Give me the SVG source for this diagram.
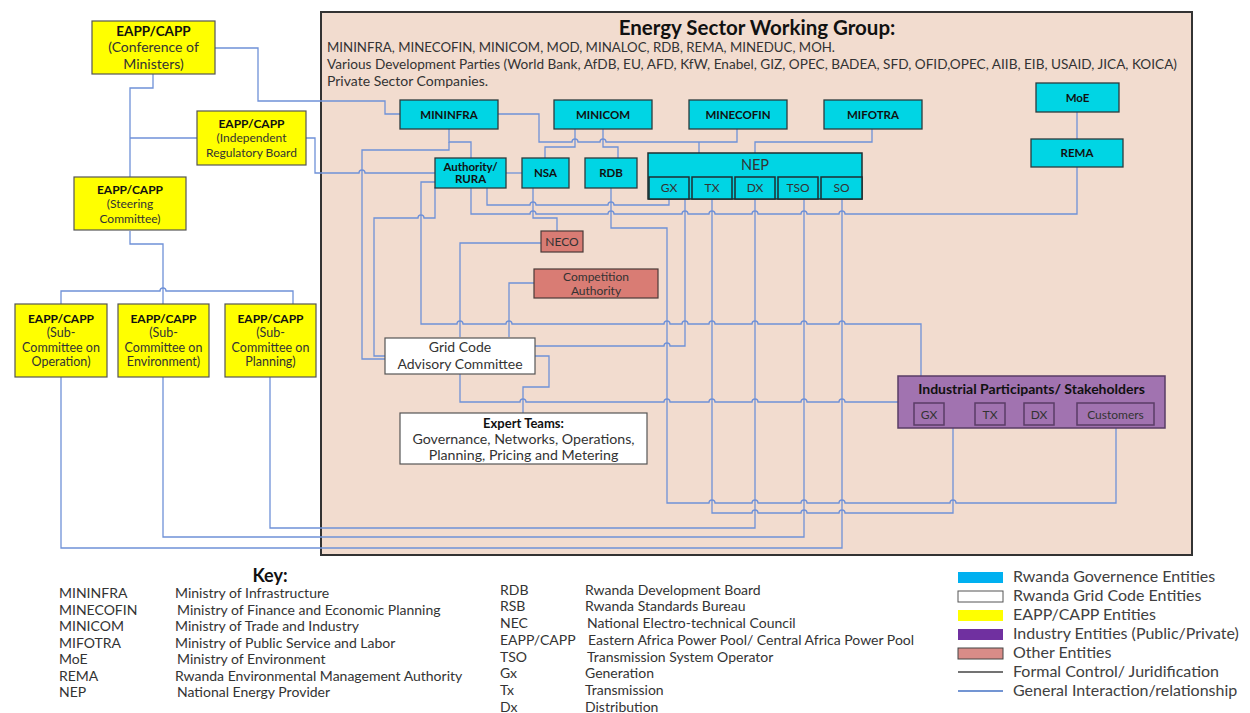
<svg xmlns="http://www.w3.org/2000/svg" width="1250" height="713" viewBox="0 0 1250 713">
<style>
text{font-family:Lato,"Open Sans","Liberation Sans",sans-serif;fill:#333}
.b{font-weight:bold;fill:#111}
.m{text-anchor:middle}
.c{fill:none;stroke:#6f91d8;stroke-width:1.3}
.cy{fill:#00d5e4;stroke:#2b3b3d;stroke-width:1.3}
.cs{fill:#00d5e4;stroke:#1e2e30;stroke-width:1.5}
.ye{fill:#ffff00;stroke:#555;stroke-width:1.2}
.rd{fill:#d97c74;stroke:#4a3a38;stroke-width:1.2}
.wh{fill:#fff;stroke:#555;stroke-width:1.2}
.pu{fill:#a173b0;stroke:#5a3d66;stroke-width:1.5}
.k{font-size:14px;fill:#333}
.lg{font-size:16px;fill:#404040}
</style>
<rect width="1250" height="713" fill="#fff"/>
<g id="esw-group">
<rect x="321" y="12" width="871" height="543" fill="#f2dccf" stroke="#333" stroke-width="2"/>
<text x="757" y="35" class="b m" font-size="20.5">Energy Sector Working Group:</text>
<text x="327" y="52" font-size="13" textLength="508" lengthAdjust="spacingAndGlyphs">MININFRA, MINECOFIN, MINICOM, MOD, MINALOC, RDB, REMA, MINEDUC, MOH.</text>
<text x="327" y="69" font-size="13" textLength="850" lengthAdjust="spacingAndGlyphs">Various Development Parties (World Bank, AfDB, EU, AFD, KfW, Enabel, GIZ, OPEC, BADEA, SFD, OFID,OPEC, AIIB, EIB, USAID, JICA, KOICA)</text>
<text x="327" y="86" font-size="13" textLength="161" lengthAdjust="spacingAndGlyphs">Private Sector Companies.</text>
</g>
<g id="connectors">
<path class="c" d="M215,48 H258 V101 H385 V114 H400"/>
<path class="c" d="M153,74 V88 H130 V177"/>
<path class="c" d="M130,138 H197"/>
<path class="c" d="M306,138 H315 V173 H359 A3,3 0 0 1 365,173 H435"/>
<path class="c" d="M130,231 V244 H163 V304"/>
<path class="c" d="M61,304 V291 H160 A3,3 0 0 1 166,291 H293 V304"/>
<path class="c" d="M61,377 V548 H842 V199"/>
<path class="c" d="M163,377 V537 H804 V199"/>
<path class="c" d="M270,377 V528 H755 V199"/>
<path class="c" d="M498,114 H539 V142 H572 A3,3 0 0 1 578,142 H600 A3,3 0 0 1 606,142 H737 V129 M699,142 V153"/>
<path class="c" d="M575,129 V147 H545 V158"/>
<path class="c" d="M603,129 V147 H618 V158"/>
<path class="c" d="M872,129 V142 H755 V153"/>
<path class="c" d="M449,129 V142 H471 V158"/>
<path class="c" d="M449,142 V150 H362 V359 H385"/>
<path class="c" d="M506,173 H522"/>
<path class="c" d="M435,182 H421 V324 H457 A3,3 0 0 1 463,324 H506 A3,3 0 0 1 512,324 H664 A3,3 0 0 1 670,324 H682 A3,3 0 0 1 688,324 H709 A3,3 0 0 1 715,324 H752 A3,3 0 0 1 758,324 H801 A3,3 0 0 1 807,324 H839 A3,3 0 0 1 845,324 H921 V376"/>
<path class="c" d="M435,187 V218 H424 A3,3 0 0 0 418,218 H374 V356 H385"/>
<path class="c" d="M487,188 V205 H530 A3,3 0 0 1 536,205 H608 A3,3 0 0 1 614,205 H669 V199"/>
<path class="c" d="M471,188 V214 H530 A3,3 0 0 1 536,214 H608 A3,3 0 0 1 614,214 H682 A3,3 0 0 1 688,214 H709 A3,3 0 0 1 715,214 H752 A3,3 0 0 1 758,214 H801 A3,3 0 0 1 807,214 H839 A3,3 0 0 1 845,214 H1077 V167"/>
<path class="c" d="M533,188 V218 H557 V231"/>
<path class="c" d="M611,188 V228 H667 V503 H709 A3,3 0 0 1 715,503 H752 A3,3 0 0 1 758,503 H801 A3,3 0 0 1 807,503 H839 A3,3 0 0 1 845,503 H950 A3,3 0 0 1 956,503 H1116 V428"/>
<path class="c" d="M685,199 V346 H670 A3,3 0 0 0 664,346 H535"/>
<path class="c" d="M712,199 V513 H752 A3,3 0 0 1 758,513 H801 A3,3 0 0 1 807,513 H839 A3,3 0 0 1 845,513 H953 V428"/>
<path class="c" d="M460,337 V243 H541"/>
<path class="c" d="M509,337 V283 H534"/>
<path class="c" d="M535,356 H549 V387 H523 V413"/>
<path class="c" d="M460,374 V402 H520 A3,3 0 0 1 526,402 H664 A3,3 0 0 1 670,402 H709 A3,3 0 0 1 715,402 H752 A3,3 0 0 1 758,402 H801 A3,3 0 0 1 807,402 H839 A3,3 0 0 1 845,402 H898"/>
<path class="c" d="M1077,112 V139"/>
</g>
<g id="conf-ministers"><rect class="ye" x="92" y="21" width="123" height="53"/>
<text x="153.5" y="36" class="b m" font-size="13.5">EAPP/CAPP</text>
<text x="153.5" y="52" class="m" font-size="14">(Conference of</text>
<text x="153.5" y="69" class="m" font-size="14">Ministers)</text></g>
<g id="irb"><rect class="ye" x="197" y="111" width="109" height="54"/>
<text x="251.5" y="128" class="b m" font-size="12">EAPP/CAPP</text>
<text x="251.5" y="142" class="m" font-size="12">(Independent</text>
<text x="251.5" y="157" class="m" font-size="12">Regulatory Board</text></g>
<g id="steering"><rect class="ye" x="74" y="177" width="112" height="53"/>
<text x="130" y="194" class="b m" font-size="12">EAPP/CAPP</text>
<text x="130" y="208" class="m" font-size="12">(Steering</text>
<text x="130" y="223" class="m" font-size="12">Committee)</text></g>
<g id="sub-operation"><rect class="ye" x="15" y="304" width="92" height="73"/>
<text x="61" y="323" class="b m" font-size="12">EAPP/CAPP</text>
<text x="61" y="337" class="m" font-size="12.5">(Sub-</text>
<text x="61" y="352" class="m" font-size="12.5">Committee on</text>
<text x="61" y="366" class="m" font-size="12.5">Operation)</text></g>
<g id="sub-environment"><rect class="ye" x="118" y="304" width="91" height="73"/>
<text x="163.5" y="323" class="b m" font-size="12">EAPP/CAPP</text>
<text x="163.5" y="337" class="m" font-size="12.5">(Sub-</text>
<text x="163.5" y="352" class="m" font-size="12.5">Committee on</text>
<text x="163.5" y="366" class="m" font-size="12.5">Environment)</text></g>
<g id="sub-planning"><rect class="ye" x="225" y="304" width="91" height="73"/>
<text x="270.5" y="323" class="b m" font-size="12">EAPP/CAPP</text>
<text x="270.5" y="337" class="m" font-size="12.5">(Sub-</text>
<text x="270.5" y="352" class="m" font-size="12.5">Committee on</text>
<text x="270.5" y="366" class="m" font-size="12.5">Planning)</text></g>
<g id="mininfra"><rect class="cy" x="400" y="100" width="98" height="29"/><text x="449" y="119" class="b m" font-size="11.5">MININFRA</text></g>
<g id="minicom"><rect class="cy" x="554" y="100" width="98" height="29"/><text x="603" y="119" class="b m" font-size="11.5">MINICOM</text></g>
<g id="minecofin"><rect class="cy" x="689" y="100" width="98" height="29"/><text x="738" y="119" class="b m" font-size="11.5">MINECOFIN</text></g>
<g id="mifotra"><rect class="cy" x="824" y="100" width="98" height="29"/><text x="873" y="119" class="b m" font-size="11.5">MIFOTRA</text></g>
<g id="moe"><rect class="cy" x="1036" y="83" width="83" height="29"/><text x="1077.5" y="102" class="b m" font-size="11.5">MoE</text></g>
<g id="rema"><rect class="cy" x="1031" y="139" width="92" height="28"/><text x="1077" y="157" class="b m" font-size="11.5">REMA</text></g>
<g id="authority-rura"><rect class="cy" x="435" y="158" width="71" height="30"/>
<text x="470.5" y="171" class="b m" font-size="11.5">Authority/</text>
<text x="470.5" y="183" class="b m" font-size="11.5">RURA</text></g>
<g id="nsa"><rect class="cy" x="522" y="158" width="47" height="30"/><text x="545.5" y="177" class="b m" font-size="11.5">NSA</text></g>
<g id="rdb"><rect class="cy" x="585" y="158" width="52" height="30"/><text x="611" y="177" class="b m" font-size="11.5">RDB</text></g>
<g id="nep"><rect class="cs" x="648" y="153" width="214" height="46"/>
<text x="755" y="170" class="m" font-size="14.5" fill="#222">NEP</text>
<rect class="cs" x="649" y="177" width="40" height="22"/><text x="669" y="192" class="m" font-size="12">GX</text>
<rect class="cs" x="692" y="177" width="40" height="22"/><text x="712" y="192" class="m" font-size="12">TX</text>
<rect class="cs" x="735" y="177" width="40" height="22"/><text x="755" y="192" class="m" font-size="12">DX</text>
<rect class="cs" x="778" y="177" width="40" height="22"/><text x="798" y="192" class="m" font-size="12">TSO</text>
<rect class="cs" x="821" y="177" width="41" height="22"/><text x="841.5" y="192" class="m" font-size="12">SO</text></g>
<g id="neco"><rect class="rd" x="541" y="231" width="42" height="21"/><text x="562" y="246" class="m" font-size="12">NECO</text></g>
<g id="competition-authority"><rect class="rd" x="534" y="269" width="124" height="29"/>
<text x="596" y="281" class="m" font-size="12">Competition</text>
<text x="596" y="295" class="m" font-size="12">Authority</text></g>
<g id="grid-code"><rect class="wh" x="385" y="338" width="150" height="36"/>
<text x="460" y="352" class="m" font-size="14" fill="#404040">Grid Code</text>
<text x="460" y="369" class="m" font-size="14" fill="#404040">Advisory Committee</text></g>
<g id="expert-teams"><rect class="wh" x="400" y="413" width="247" height="51"/>
<text x="523.5" y="427.5" class="b m" font-size="13">Expert Teams:</text>
<text x="523.5" y="444" class="m" font-size="14.2">Governance, Networks, Operations,</text>
<text x="523.5" y="460" class="m" font-size="14.2">Planning, Pricing and Metering</text></g>
<g id="industrial"><rect class="pu" x="898" y="376" width="267" height="52"/>
<text x="1031.5" y="394" class="b m" font-size="14" fill="#1a0f20">Industrial Participants/ Stakeholders</text>
<rect class="pu" x="914" y="403" width="30" height="22"/><text x="929" y="418.5" class="m" font-size="12">GX</text>
<rect class="pu" x="975" y="403" width="30" height="22"/><text x="990" y="418.5" class="m" font-size="12">TX</text>
<rect class="pu" x="1024" y="403" width="30" height="22"/><text x="1039" y="418.5" class="m" font-size="12">DX</text>
<rect class="pu" x="1077" y="403" width="77" height="22"/><text x="1115.5" y="418.5" class="m" font-size="12">Customers</text></g>
<g id="key">
<text x="270" y="582" class="b m" font-size="18">Key:</text>
<text x="59" y="598" class="k">MININFRA</text><text x="175" y="598" class="k">Ministry of Infrastructure</text>
<text x="59" y="615" class="k">MINECOFIN</text><text x="177" y="615" class="k">Ministry of Finance and Economic Planning</text>
<text x="59" y="631" class="k">MINICOM</text><text x="175" y="631" class="k">Ministry of Trade and Industry</text>
<text x="59" y="648" class="k">MIFOTRA</text><text x="175" y="648" class="k">Ministry of Public Service and Labor</text>
<text x="59" y="664" class="k">MoE</text><text x="177" y="664" class="k">Ministry of Environment</text>
<text x="59" y="681" class="k">REMA</text><text x="175" y="681" class="k">Rwanda Environmental Management Authority</text>
<text x="59" y="697" class="k">NEP</text><text x="177" y="697" class="k">National Energy Provider</text>
<text x="500" y="595" class="k">RDB</text><text x="585" y="595" class="k">Rwanda Development Board</text>
<text x="500" y="611" class="k">RSB</text><text x="585" y="611" class="k">Rwanda Standards Bureau</text>
<text x="500" y="628" class="k">NEC</text><text x="587" y="628" class="k">National Electro-technical Council</text>
<text x="500" y="645" class="k">EAPP/CAPP</text><text x="588" y="645" class="k">Eastern Africa Power Pool/ Central Africa Power Pool</text>
<text x="500" y="662" class="k">TSO</text><text x="587" y="662" class="k">Transmission System Operator</text>
<text x="500" y="678" class="k">Gx</text><text x="585" y="678" class="k">Generation</text>
<text x="500" y="695" class="k">Tx</text><text x="585" y="695" class="k">Transmission</text>
<text x="500" y="712" class="k">Dx</text><text x="585" y="712" class="k">Distribution</text>
</g>
<g id="legend">
<rect x="958" y="572" width="45" height="11" fill="#00b0f0"/>
<rect x="958" y="591" width="45" height="11" fill="#fff" stroke="#555"/>
<rect x="958" y="610" width="45" height="11" fill="#ffff00"/>
<rect x="958" y="629" width="45" height="11" fill="#7030a0"/>
<rect x="958" y="648" width="45" height="11" fill="#d98c88" stroke="#444"/>
<line x1="958" y1="672" x2="1003" y2="672" stroke="#444" stroke-width="1.3"/>
<line x1="958" y1="691" x2="1003" y2="691" stroke="#4472c4" stroke-width="1.3"/>
<text x="1013" y="582" class="lg">Rwanda Governence Entities</text>
<text x="1013" y="601" class="lg">Rwanda Grid Code Entities</text>
<text x="1013" y="620" class="lg">EAPP/CAPP Entities</text>
<text x="1013" y="639" class="lg">Industry Entities (Public/Private)</text>
<text x="1013" y="658" class="lg">Other Entities</text>
<text x="1013" y="677" class="lg">Formal Control/ Juridification</text>
<text x="1013" y="696" class="lg">General Interaction/relationship</text>
</g>
</svg>
